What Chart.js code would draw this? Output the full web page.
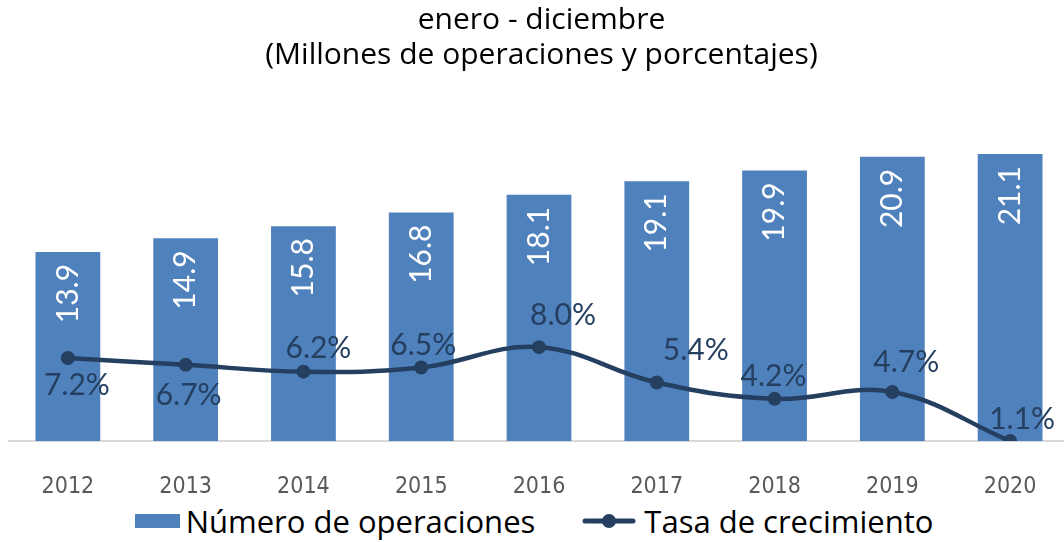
<!DOCTYPE html>
<html lang="es">
<head>
<meta charset="utf-8">
<script src="https://cdn.jsdelivr.net/npm/chart.js@4/dist/chart.umd.min.js"></script>
<style>
    html, body { margin: 0; padding: 0; background: #fff; overflow: hidden; }
    #contenedor { width: 1076px; height: 500px; }
    #leyenda {
        list-style: none;
        margin: 0;
        padding: 0 0 0 4px;
        width: 1060px;
        height: 42px;
        display: flex;
        justify-content: center;
        align-items: center;
        gap: 47px;
        font: 31px "Open Sans", sans-serif;
        color: #000;
    }
    #leyenda li { display: flex; align-items: center; }
    #leyenda li:first-child canvas { margin-right: 6px; }
    #leyenda li:last-child canvas { margin-right: 8px; }
</style>
</head>
<body>
<div id="contenedor"><canvas id="grafica"></canvas></div>
<ul id="leyenda"></ul>
<script>
const anios = ["2012", "2013", "2014", "2015", "2016", "2017", "2018", "2019", "2020"];
const operaciones = [13.9, 14.9, 15.8, 16.8, 18.1, 19.1, 19.9, 20.9, 21.1];
const crecimiento = [7.2, 6.7, 6.2, 6.5, 8.0, 5.4, 4.2, 4.7, 1.1];
const titulo = ["enero - diciembre", "(Millones de operaciones y porcentajes)"];
const series = ["Número de operaciones", "Tasa de crecimiento"];

const azul = "#4F81BD";
const marino = "#243F60";

// donde va cada etiqueta de la tasa respecto a su punto (px)
const desplazamientos = [[9, 27], [3, 30], [15, -23], [2, -22], [24, -32], [39, -32], [-1, -23], [14, -30], [12, -22]];

function iconoBarra() {
    const c = document.createElement("canvas");
    c.width = 45;
    c.height = 14;
    const g = c.getContext("2d");
    g.fillStyle = azul;
    g.fillRect(0, 0, 45, 14);
    return c;
}

function iconoLinea() {
    const c = document.createElement("canvas");
    c.width = 54;
    c.height = 16;
    const g = c.getContext("2d");
    g.strokeStyle = marino;
    g.lineWidth = 5;
    g.lineCap = "round";
    g.beginPath();
    g.moveTo(3, 8);
    g.lineTo(51, 8);
    g.stroke();
    g.fillStyle = marino;
    g.beginPath();
    g.arc(27, 8, 7, 0, Math.PI * 2);
    g.fill();
    return c;
}

const iconos = [iconoBarra(), iconoLinea()];

// leyenda en html, a partir de los datasets
const leyendaHtml = {
    id: "leyendaHtml",
    afterUpdate(chart) {
        const lista = document.querySelector("#leyenda");
        lista.innerHTML = "";
        chart.data.datasets.forEach((ds, i) => {
            const li = document.createElement("li");
            const texto = document.createElement("span");
            texto.textContent = ds.label;
            li.append(iconos[i], texto);
            lista.append(li);
        });
    }
};

const etiquetas = {
    id: "etiquetas",
    afterDatasetsDraw(chart) {
        const ctx = chart.ctx;
        const barras = chart.getDatasetMeta(0).data;
        const puntos = chart.getDatasetMeta(1).data;
        ctx.save();
        ctx.textBaseline = "middle";

        ctx.font = "30px Lato";
        ctx.fillStyle = "#fff";
        ctx.textAlign = "right";
        barras.forEach((barra, i) => {
            ctx.save();
            ctx.translate(barra.x, barra.y + 12);
            ctx.rotate(-Math.PI / 2);
            ctx.fillText(operaciones[i].toFixed(1), 0, 0);
            ctx.restore();
        });

        ctx.font = "30px Lato";
        ctx.fillStyle = marino;
        ctx.textAlign = "center";
        puntos.forEach((punto, i) => {
            const [dx, dy] = desplazamientos[i];
            ctx.fillText(crecimiento[i].toFixed(1) + "%", punto.x + dx, punto.y + dy);
        });
        ctx.restore();
    }
};

new Chart(document.querySelector("#grafica"), {
    type: "bar",
    data: {
        labels: anios,
        datasets: [
            {
                label: series[0],
                data: operaciones,
                backgroundColor: azul,
                barPercentage: 0.55,
                categoryPercentage: 1,
                yAxisID: "y",
                order: 1
            },
            {
                type: "line",
                label: series[1],
                data: crecimiento,
                borderColor: marino,
                backgroundColor: marino,
                borderWidth: 4.5,
                pointRadius: 7,
                pointBackgroundColor: marino,
                pointBorderWidth: 0,
                tension: 0.4,
                yAxisID: "y2",
                order: 0
            }
        ]
    },
    options: {
        responsive: true,
        maintainAspectRatio: false,
        animation: false,
        devicePixelRatio: 1,
        layout: { padding: { left: 9, right: 2 } },
        plugins: {
            tooltip: { enabled: false },
            legend: { display: false },
            title: {
                display: true,
                text: titulo,
                color: "#000",
                font: { family: "'Open Sans'", size: 30, weight: "normal", lineHeight: 1.167 },
                padding: { top: 3, bottom: 28 }
            }
        },
        scales: {
            x: {
                grid: { display: false, drawTicks: false },
                border: { display: true, color: "#D9D9D9", width: 2 },
                ticks: {
                    color: "#595959",
                    padding: 32,
                    font: { family: "'DejaVu Sans Condensed', sans-serif", size: 23 }
                },
                afterFit: (escala) => { escala.height = 59; }
            },
            y: { display: false, min: 0, max: 25 },
            y2: { display: false, min: 1.1, max: 26.1 }
        }
    },
    plugins: [etiquetas, leyendaHtml]
});
</script>
</body>
</html>
